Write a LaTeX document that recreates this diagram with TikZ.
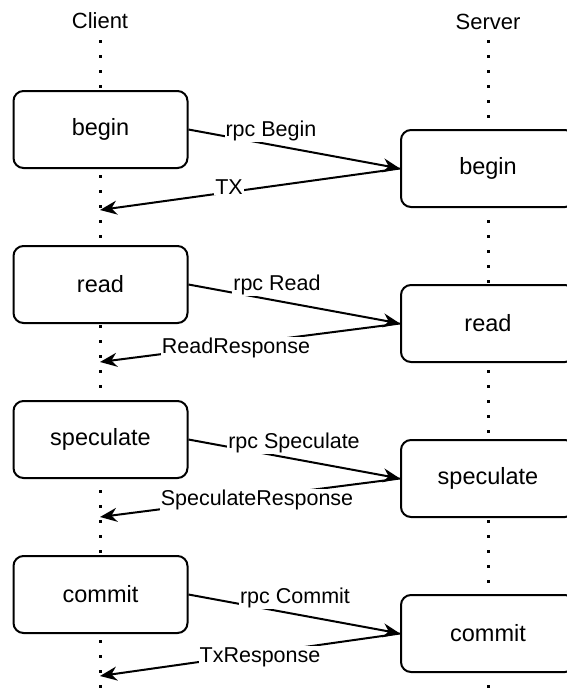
\documentclass[tikz,border=0pt]{standalone}
\usepackage{fontspec}
\setmainfont{Liberation Sans}
\usetikzlibrary{arrows.meta}
\begin{document}
\begin{tikzpicture}[x=1pt,y=-1pt,
  act/.style={draw, line width=2pt, rounded corners=10pt, fill=white,
    minimum width=174pt, minimum height=77pt, inner sep=0pt,
    font=\fontsize{23.5}{28}\selectfont},
  head/.style={anchor=base, inner sep=0pt, font=\fontsize{22}{26}\selectfont},
  life/.style={line width=3pt, dash pattern=on 3pt off 12pt},
  msg/.style={line width=2pt, -{Stealth[length=17pt,width=14pt,inset=5.5pt]}},
  lbl/.style={fill=white, inner sep=1pt, font=\fontsize{21.5}{25}\selectfont}]
\useasboundingbox (0,0) rectangle (567,689);
\clip (0,0) rectangle (567,689);

% participants and their lifelines
\node[head] (client) at (100,28) {Client};
\node[head] (server) at (488,29) {Server};
\coordinate (ctop) at (100,40);
\coordinate (cbot) at (100,700);
\coordinate (stop) at (488,40);
\coordinate (sbot) at (488,700);
\draw[life] (ctop) -- (cbot);
\draw[life] (stop) -- (sbot);

% activity boxes
\node[act] (c1) at (100.5,129.5) {begin};
\node[act] (s1) at (488,168.5) {begin};
\node[act] (c2) at (100.5,284.5) {read};
\node[act] (s2) at (488,323.5) {read};
\node[act] (c3) at (100.5,439.5) {speculate};
\node[act] (s3) at (488,478.5) {speculate};
\node[act] (c4) at (100.5,594.5) {commit};
\node[act] (s4) at (488,633.5) {commit};

% reply end points on the client lifeline
\coordinate (r1) at (100,210);
\coordinate (r2) at (100,362);
\coordinate (r3) at (100,517);
\coordinate (r4) at (100,676);

% requests and replies
\draw[msg] (c1.east) -- (s1.west);
\draw[msg] (s1.west) -- (r1);
\draw[msg] (c2.east) -- (s2.west);
\draw[msg] (s2.west) -- (r2);
\draw[msg] (c3.east) -- (s3.west);
\draw[msg] (s3.west) -- (r3);
\draw[msg] (c4.east) -- (s4.west);
\draw[msg] (s4.west) -- (r4);

% message labels
\node[lbl] (l1) at (271,131) {rpc Begin};
\node[lbl] (l2) at (229,187) {TX};
\node[lbl] (l3) at (277,285) {rpc Read};
\node[lbl] (l4) at (236,348) {ReadResponse};
\node[lbl] (l5) at (294,443) {rpc Speculate};
\node[lbl] (l6) at (257,500) {SpeculateResponse};
\node[lbl] (l7) at (295,598) {rpc Commit};
\node[lbl] (l8) at (260,657) {TxResponse};
\end{tikzpicture}
\end{document}
